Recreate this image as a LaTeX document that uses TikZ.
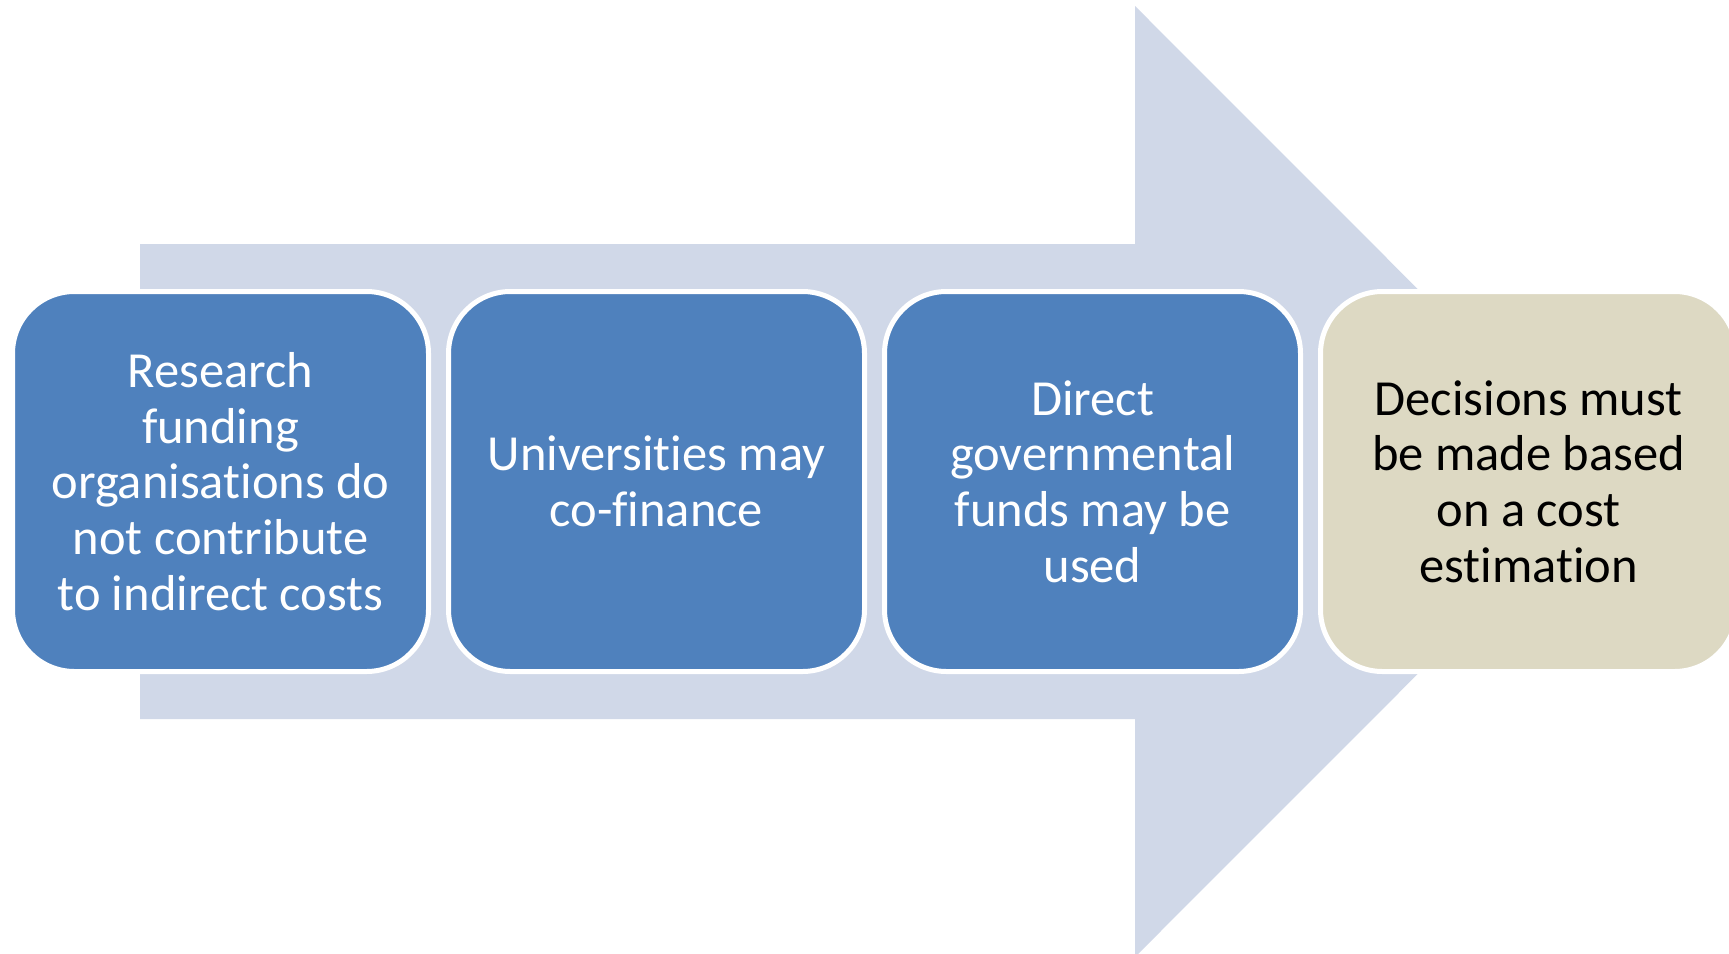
\documentclass[tikz,border=0pt]{standalone}
\usepackage{fontspec}
\setmainfont[Ligatures={NoCommon}]{Carlito}
\definecolor{arrowfill}{HTML}{D0D8E8}
\definecolor{boxblue}{HTML}{4F81BD}
\definecolor{boxbeige}{HTML}{DDD9C3}
\begin{document}
\begin{tikzpicture}[x=1pt,y=-1pt,
  stepbox/.style={rectangle, rounded corners=62pt, draw=white, line width=5pt,
    minimum width=416pt, minimum height=380pt, align=center, inner sep=0pt,
    font=\fontsize{50.5}{55.7}\selectfont},
  bluebox/.style={stepbox, fill=boxblue, text=white},
  beigebox/.style={stepbox, fill=boxbeige, text=black}]
\useasboundingbox (0,0) rectangle (1729,953);
\clip (0,0) rectangle (1729,953);
\fill[arrowfill] (140,244) -- (1135,244) -- (1135,6) -- (1610,481.5) -- (1135,957) -- (1135,719) -- (140,719) -- cycle;
\node[bluebox] (b1) at (220.5,481.5) {Research\\funding\\organisations do\\not contribute\\to indirect costs};
\node[bluebox] (b2) at (656.5,481.5) {Universities may\\co-finance};
\node[bluebox] (b3) at (1092.5,481.5) {Direct\\governmental\\funds may be\\used};
\node[beigebox] (b4) at (1528.5,481.5) {Decisions must\\be made based\\on a cost\\estimation};
\end{tikzpicture}
\end{document}
